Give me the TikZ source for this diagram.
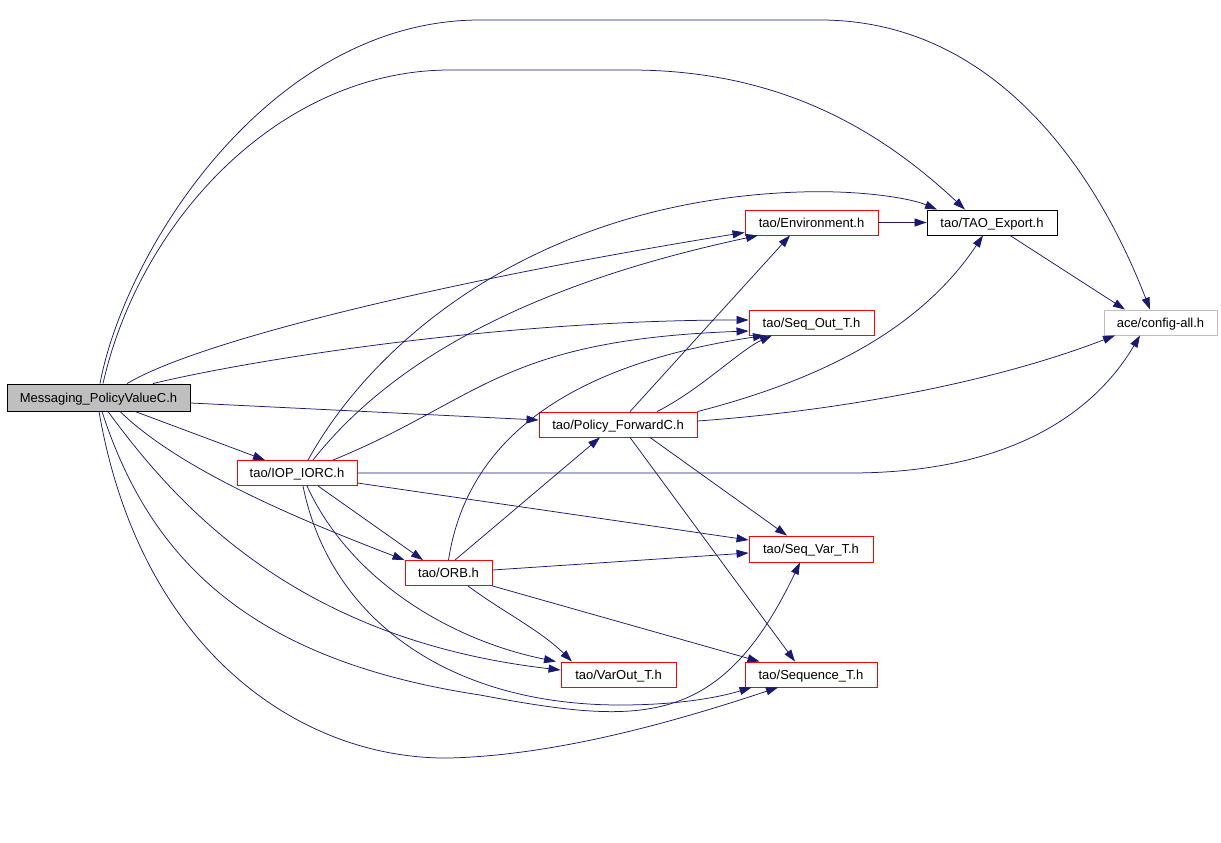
\documentclass[tikz,border=0pt]{standalone}
\usepackage{fontspec}
\setmainfont{Liberation Sans}
\usepackage{tikz}
\usetikzlibrary{arrows.meta}
\definecolor{edgeblue}{HTML}{191970}
\definecolor{boxgray}{HTML}{BFBFBF}

\begin{document}
\begin{tikzpicture}[x=1pt, y=-1pt,
    hdr/.style = {draw=red, line width=0.9pt, minimum height=25pt, inner sep=0pt,
                  text height=9.4pt, text depth=0pt,
                  font=\fontsize{13}{15}\selectfont},
    mainhdr/.style = {hdr, draw=black, fill=boxgray, minimum height=27pt},
    plainhdr/.style = {hdr, draw=black},
    exthdr/.style = {hdr, draw=boxgray},
    dep/.style = {draw=edgeblue, line width=0.75pt,
                  -{Triangle[length=12pt,width=8pt]}}]
  \useasboundingbox (0,0) rectangle (1221,843);
  % draw nodes
  \node[mainhdr, minimum width=183pt]  (msg)    at (98.5,397.5)  {Messaging\_PolicyValueC.h};
  \node[hdr, minimum width=120pt]      (iop)    at (297,473)     {tao/IOP\_IORC.h};
  \node[hdr, minimum width=87pt]       (orb)    at (448.5,573)   {tao/ORB.h};
  \node[hdr, minimum width=158pt]      (pol)    at (618,424.5)   {tao/Policy\_ForwardC.h};
  \node[hdr, minimum width=133pt]      (env)    at (811.5,222.5) {tao/Environment.h};
  \node[plainhdr, minimum width=130pt] (export) at (992,222.5)   {tao/TAO\_Export.h};
  \node[hdr, minimum width=125pt]      (seqout) at (811.5,322.5) {tao/Seq\_Out\_T.h};
  \node[exthdr, minimum width=113pt]   (cfg)    at (1160.5,322.5) {ace/config-all.h};
  \node[hdr, minimum width=124pt, minimum height=26pt] (seqvar) at (811,549) {tao/Seq\_Var\_T.h};
  \node[hdr, minimum width=115pt]      (varout) at (618.5,674.5) {tao/VarOut\_T.h};
  \node[hdr, minimum width=132pt]      (seqt)   at (811,674.5)   {tao/Sequence\_T.h};
  % edges from Messaging_PolicyValueC.h
  \draw[dep] ([xshift=1.5pt]msg.north) .. controls (125,250) and (270,20) .. (480,20)
        -- (820,20) .. controls (1000,20) and (1100,180) .. ([xshift=-10.5pt]cfg.north);
  \draw[dep] ([xshift=4.5pt]msg.north) .. controls (140,220) and (280,70) .. (450,70)
        -- (630,70) .. controls (780,70) and (880,130) .. ([xshift=-27pt]export.north);
  \draw[dep] ([xshift=28.5pt]msg.north) .. controls (200,340) and (450,280) .. ([yshift=3pt]env.south west);
  \draw[dep] ([xshift=54.5pt]msg.north) .. controls (250,360) and (500,320) .. ([yshift=2.5pt]seqout.west);
  \draw[dep] ([yshift=-5.5pt]msg.east) -- ([yshift=4.5pt]pol.west);
  \draw[dep] ([xshift=36.5pt]msg.south) -- ([xshift=-32pt]iop.north);
  \draw[dep] ([xshift=21.5pt]msg.south) .. controls (180,470) and (300,520) .. (orb.north west);
  \draw[dep] ([xshift=9.5pt]msg.south) .. controls (180,510) and (300,640) .. ([yshift=4.5pt]varout.west);
  \draw[dep] ([xshift=3.5pt]msg.south) .. controls (150,560) and (250,660) .. (480,695)
        .. controls (640,725) and (720,730) .. ([xshift=-11pt]seqvar.south);
  \draw[dep] ([xshift=0.5pt]msg.south) .. controls (140,650) and (300,760) .. (450,758)
        .. controls (560,755) and (680,720) .. ([xshift=-33pt]seqt.south);
  % edges from tao/IOP_IORC.h
  \draw[dep] ([xshift=11pt]iop.north) .. controls (380,330) and (550,200) .. (800,192)
        .. controls (860,190) and (910,198) .. ([xshift=-55pt]export.north);
  \draw[dep] ([xshift=16pt]iop.north) .. controls (400,350) and (550,280) .. ([xshift=-53.5pt]env.south);
  \draw[dep] ([xshift=36pt]iop.north) .. controls (480,400) and (500,340) .. ([yshift=-8.5pt]seqout.west);
  \draw[dep] (iop.east) -- (850,473) .. controls (1000,473) and (1090,420) .. ([xshift=-20.5pt]cfg.south);
  \draw[dep] ([yshift=-10pt]iop.east) -- ([yshift=9pt]seqvar.west);
  \draw[dep] ([xshift=21pt]iop.south) -- ([xshift=-25.5pt]orb.north);
  \draw[dep] ([xshift=10pt]iop.south) .. controls (350,580) and (450,640) .. ([xshift=-62.5pt]varout.north);
  \draw[dep] ([xshift=6pt]iop.south) .. controls (330,620) and (450,705) .. (620,705)
        .. controls (680,705) and (720,697) .. ([xshift=7pt]seqt.south west);
  % edges from tao/ORB.h
  \draw[dep] ([xshift=6.5pt]orb.north) -- ([xshift=-18pt]pol.south);
  \draw[dep] (orb.north) .. controls (470,420) and (600,360) .. ([xshift=-46.5pt]seqout.south);
  \draw[dep] ([yshift=3pt]orb.east) -- ([yshift=-4pt]seqvar.west);
  \draw[dep] (orb.south east) -- ([xshift=15pt]seqt.north west);
  \draw[dep] ([xshift=19.5pt]orb.south) .. controls (500,610) and (540,630) .. ([xshift=-46.5pt]varout.north);
  % edges from tao/Policy_ForwardC.h
  \draw[dep] ([xshift=12pt]pol.north) -- ([xshift=-21.5pt]env.south);
  \draw[dep] (pol.north east) .. controls (820,380) and (920,330) .. ([xshift=-9pt]export.south);
  \draw[dep] ([xshift=39pt]pol.north) .. controls (700,390) and (740,350) .. ([xshift=-39.5pt]seqout.south);
  \draw[dep] ([yshift=3.5pt]pol.east) .. controls (850,410) and (1000,380) .. ([xshift=-45.5pt]cfg.south);
  \draw[dep] ([xshift=32pt]pol.south) -- ([xshift=-24pt]seqvar.north);
  \draw[dep] ([xshift=12pt]pol.south) -- ([xshift=-16pt]seqt.north);
  % remaining edges
  \draw[dep] (env.east) -- (export.west);
  \draw[dep] ([xshift=18pt]export.south) -- ([xshift=-35.5pt]cfg.north);
\end{tikzpicture}
\end{document}
